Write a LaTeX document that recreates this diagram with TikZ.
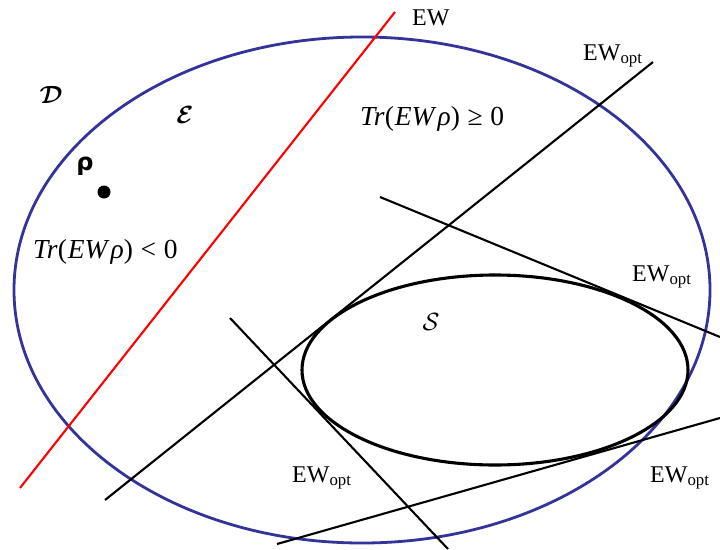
\documentclass[tikz,border=0pt]{standalone}
\usepackage{amsmath,amsbsy}
\usepackage{fontspec}
\setmainfont{Liberation Serif}
\newfontfamily\dejavu{DejaVu Sans}
\definecolor{ellblue}{RGB}{51,51,153}
\tikzset{
  lbl/.style={inner sep=0pt, font=\fontsize{24}{28}\selectfont},
  trlbl/.style={inner sep=0pt, font=\fontsize{27.5}{32}\selectfont},
  ewline/.style={line width=2.1pt, black},
}
\begin{document}
\begin{tikzpicture}[x=1pt,y=-1pt]
\useasboundingbox (0,0) rectangle (720,549);
% outer ellipse D
\draw[ellblue, line width=2.8pt] (362,290) ellipse [x radius=348pt, y radius=253pt];
% separable set S
\draw[black, line width=3.1pt] (495,370) ellipse [x radius=193pt, y radius=95pt];
% witness lines
\coordinate (r1) at (20,488); \coordinate (r2) at (395,12);
\draw[red, line width=2.1pt] (r1) -- (r2);
\coordinate (a1) at (105,500); \coordinate (a2) at (653,62);
\draw[ewline] (a1) -- (a2);
\coordinate (b1) at (380,197); \coordinate (b2) at (720,337);
\draw[ewline] (b1) -- (b2);
\coordinate (c1) at (230,318); \coordinate (c2) at (448,549);
\draw[ewline] (c1) -- (c2);
\coordinate (d1) at (277,544); \coordinate (d2) at (720,418);
\draw[ewline] (d1) -- (d2);
% labels
\node[lbl, anchor=base west] (ew) at (412,25) {EW};
\node[lbl, anchor=base west] (ewo1) at (583,60) {EW\textsubscript{opt}};
\node[lbl, anchor=base west] (ewo2) at (632,281) {EW\textsubscript{opt}};
\node[lbl, anchor=base west] (ewo3) at (292,482) {EW\textsubscript{opt}};
\node[lbl, anchor=base west] (ewo4) at (650,482) {EW\textsubscript{opt}};
\node[trlbl, anchor=base west] (neg) at (33,258) {\textit{Tr}(\kern1pt\textit{EW}\kern1pt\textit{ρ})\;<\;0};
\node[trlbl, anchor=base west] (pos) at (360,125) {\textit{Tr}(\kern1pt\textit{EW}\kern1pt\textit{ρ})\;≥\;0};
\node[lbl, font=\fontsize{26}{30}\selectfont] (D) at (51,95) {$\boldsymbol{\mathcal{D}}$};
\node[lbl, font=\fontsize{26}{30}\selectfont] (E) at (185,115) {$\boldsymbol{\mathcal{E}}$};
\node[lbl] (S) at (431,322) {$\mathcal{S}$};
\node[lbl] (rho) at (85,166) {\dejavu\bfseries ρ};
\fill (104,192) circle [radius=6.5pt];
\end{tikzpicture}
\end{document}
